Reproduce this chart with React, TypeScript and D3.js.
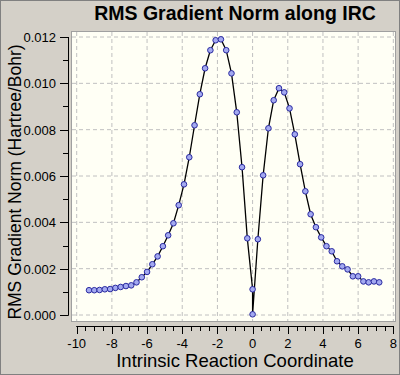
import React from 'react';
import * as d3 from 'd3';

// IRC step coordinates (amu^1/2 bohr) and RMS gradient norms (Hartree/Bohr)
const reverseX = [-9.3, -9.0, -8.7, -8.4, -8.1, -7.8, -7.5, -7.2, -6.9, -6.6, -6.3, -6.0, -5.7, -5.4, -5.1, -4.8, -4.5, -4.2, -3.9, -3.6, -3.3, -3.0, -2.7, -2.4, -2.1, -1.8, -1.5, -1.2, -0.9, -0.6, -0.3];
const reverseY = [0.00107, 0.00107, 0.00108, 0.00111, 0.00112, 0.00117, 0.00121, 0.00125, 0.00128, 0.00141, 0.00163, 0.00186, 0.00219, 0.00253, 0.00297, 0.00344, 0.00396, 0.00474, 0.00564, 0.00681, 0.00819, 0.00953, 0.01065, 0.01143, 0.01186, 0.01190, 0.01143, 0.01043, 0.00875, 0.00638, 0.00331];
const tsX = [0, 0];
const tsY = [0.00111, 0.00003];
const forwardX = [0.3, 0.6, 0.9, 1.2, 1.5, 1.8, 2.1, 2.4, 2.7, 3.0, 3.3, 3.6, 3.9, 4.2, 4.5, 4.8, 5.1, 5.4, 5.7, 6.0, 6.3, 6.6, 6.9, 7.2];
const forwardY = [0.00327, 0.00603, 0.00806, 0.00927, 0.00979, 0.00961, 0.00892, 0.00780, 0.00651, 0.00534, 0.00435, 0.00379, 0.00335, 0.00297, 0.00275, 0.00232, 0.00210, 0.00197, 0.00167, 0.00167, 0.00145, 0.00141, 0.00145, 0.00141];

const xTicks = [-10, -8, -6, -4, -2, 0, 2, 4, 6, 8];
const yTicks = [0, 0.002, 0.004, 0.006, 0.008, 0.010, 0.012];

const W = 400;
const H = 375;
const font = 'Arial, "Liberation Sans", sans-serif';

export default function App() {
  const x = d3.scaleLinear().domain([-10, 8]).range([76.7, 393.3]);
  const y = d3.scaleLinear().domain([0, 0.012]).range([315, 37]);

  const pts = [
    ...reverseX.map((v, i) => [v, reverseY[i]]),
    ...tsX.map((v, i) => [v, tsY[i]]),
    ...forwardX.map((v, i) => [v, forwardY[i]]),
  ];
  const line = d3.line().x(d => x(d[0])).y(d => y(d[1]));

  const xMinor = d3.range(-10, 8.01, 0.5);
  const yMinor = d3.range(0, 0.01201, 0.001);

  return (
    <div style={{ position: 'absolute', left: 0, top: 0 }}>
      <svg width={W} height={H} style={{ display: 'block' }}>
        <rect x={0} y={0} width={W} height={H} fill="#d4d0c8" />
        <rect x={0.5} y={0.5} width={W - 1} height={H - 1} fill="none" stroke="#808080" />

        <text x={235} y={20} textAnchor="middle" fontFamily={font} fontWeight="bold" fontSize={19.5} fill="#000">
          RMS Gradient Norm along IRC
        </text>

        {/* plot area */}
        <rect x={71.5} y={31.5} width={324} height={290} fill="#fffff5" stroke="#a0a0a0" />

        {xTicks.map(t => (
          <line key={'gx' + t} x1={x(t)} x2={x(t)} y1={32} y2={321} stroke="#c0c0c0" strokeDasharray="4,3" />
        ))}
        {yTicks.map(t => (
          <line key={'gy' + t} x1={72} x2={395} y1={y(t)} y2={y(t)} stroke="#c0c0c0" strokeDasharray="4,3" />
        ))}

        <path d={line(pts as any) || ''} fill="none" stroke="#000" strokeWidth={1.3} />
        {pts.map((d, i) => (
          <circle key={i} cx={x(d[0])} cy={y(d[1])} r={2.8} fill="#a3a9f0" stroke="#2a2aa0" strokeWidth={1} />
        ))}

        {/* y axis */}
        <line x1={68.5} x2={68.5} y1={y(0.012)} y2={y(0) + 0.5} stroke="#000" />
        {yMinor.map((t, i) => (
          <line key={'yt' + i} x1={i % 2 === 0 ? 60 : 63} x2={68.5} y1={Math.round(y(t)) + 0.5} y2={Math.round(y(t)) + 0.5} stroke="#000" />
        ))}
        {yTicks.map(t => (
          <text key={'yl' + t} x={56} y={y(t) + 5} textAnchor="end" fontFamily={font} fontSize={13} fill="#000">
            {d3.format('.3f')(t)}
          </text>
        ))}
        <text transform={`translate(21,${182}) rotate(-90)`} textAnchor="middle" fontFamily={font} fontSize={17.5} fill="#000">
          RMS Gradient Norm (Hartree/Bohr)
        </text>

        {/* x axis */}
        <line x1={x(-10) - 0.5} x2={x(8) + 0.5} y1={326.5} y2={326.5} stroke="#000" />
        {xMinor.map((t, i) => (
          <line key={'xt' + i} x1={Math.round(x(t)) + 0.5} x2={Math.round(x(t)) + 0.5} y1={326} y2={i % 4 === 0 ? 334 : 331} stroke="#000" />
        ))}
        {xTicks.map(t => (
          <text key={'xl' + t} x={x(t)} y={348} textAnchor="middle" fontFamily={font} fontSize={13} fill="#000">
            {t}
          </text>
        ))}
        <text x={235} y={367} textAnchor="middle" fontFamily={font} fontSize={18.5} fill="#000">
          Intrinsic Reaction Coordinate
        </text>
      </svg>
    </div>
  );
}
